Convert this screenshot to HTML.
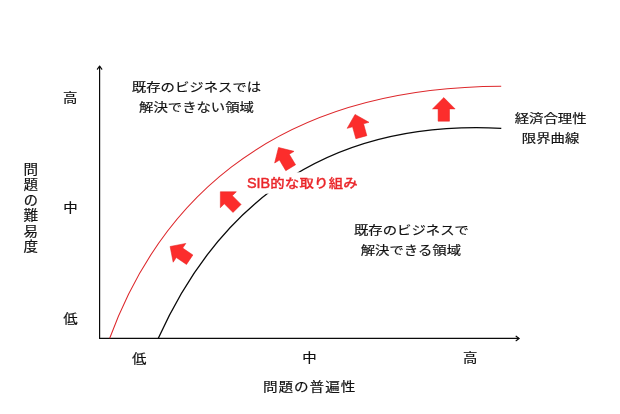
<!DOCTYPE html>
<html lang="ja">
<head>
<meta charset="utf-8">
<title>SIB</title>
<style>
html,body{margin:0;padding:0;background:#fff;}
body{width:620px;height:414px;overflow:hidden;}
svg{display:block;}
text{font-family:"Liberation Sans","Noto Sans CJK JP",sans-serif;font-weight:400;fill:#111;stroke:#111;stroke-width:0.2px;text-anchor:middle;}
.r{fill:#ea272b;stroke:#ea272b;font-weight:500;}
.s{font-weight:400;stroke-width:0.45px;}
.c{stroke-width:0.3px;}
</style>
</head>
<body>
<svg width="620" height="414" viewBox="0 0 620 414">
<rect width="620" height="414" fill="#fff"/>
<g fill="none" stroke="#0a0a0a" stroke-width="1.2" stroke-linecap="round" stroke-linejoin="round">
<path d="M99.6 66.4V338.45H518.9"/>
<path d="M97.4 69.2L99.6 66.2L101.8 69.2"/>
<path d="M516.1 336.25L519.1 338.45L516.1 340.65"/>
</g>
<path d="M109.7 338.3C154.2 216.9 258.8 87.3 501.2 86.3" fill="none" stroke="#dd272b" stroke-width="1.05"/>
<path d="M158.3 338.3C204 236.9 297 117.8 501.3 128.3" fill="none" stroke="#0a0a0a" stroke-width="1.3"/>
<g fill="#fc2d2c" stroke="#e62222" stroke-width="0.5">
<path d="M0 -11.8L11.3 -0.5L5.7 -0.5L5.7 11.8L-5.7 11.8L-5.7 -0.5L-11.3 -0.5Z" transform="translate(443.8 109.4) rotate(0)"/>
<path d="M0 -11.8L11.3 -0.5L5.7 -0.5L5.7 11.8L-5.7 11.8L-5.7 -0.5L-11.3 -0.5Z" transform="translate(358.2 125.8) rotate(-15.5)"/>
<path d="M0 -11.8L11.3 -0.5L5.7 -0.5L5.7 11.8L-5.7 11.8L-5.7 -0.5L-11.3 -0.5Z" transform="translate(284.6 157.6) rotate(-31)"/>
<path d="M0 -11.8L11.3 -0.5L5.7 -0.5L5.7 11.8L-5.7 11.8L-5.7 -0.5L-11.3 -0.5Z" transform="translate(228.7 200.1) rotate(-45)"/>
<path d="M0 -11.8L11.3 -0.5L5.7 -0.5L5.7 11.8L-5.7 11.8L-5.7 -0.5L-11.3 -0.5Z" transform="translate(179.9 253.1) rotate(-56)"/>
</g>
<text transform="translate(196.5 91.9) scale(1 0.86)" font-size="14.4">既存のビジネスでは</text>
<text transform="translate(196.5 111.9) scale(1 0.86)" font-size="14.4">解決できない領域</text>
<text transform="translate(411.4 234.7) scale(1 0.86)" font-size="14.4">既存のビジネスで</text>
<text transform="translate(410.9 254.7) scale(1 0.86)" font-size="14.4">解決できる領域</text>
<text transform="translate(550.6 122.9) scale(1 0.86)" font-size="14.4">経済合理性</text>
<text transform="translate(550.6 143.3) scale(1 0.86)" font-size="14.4">限界曲線</text>
<text transform="translate(70.3 102.15) scale(1 0.89)" font-size="14.4">高</text>
<text transform="translate(70.4 212.25) scale(1 0.89)" font-size="14.4">中</text>
<text transform="translate(70.5 322.65) scale(1 0.89)" font-size="14.4">低</text>
<text transform="translate(139.2 362.6) scale(1 0.89)" font-size="14.4">低</text>
<text transform="translate(309.4 362.35) scale(1 0.89)" font-size="14.4">中</text>
<text transform="translate(470.1 362.25) scale(1 0.89)" font-size="14.4">高</text>
<text transform="translate(309.6 390.5) scale(1 0.87)" font-size="14.6" letter-spacing="0.95">問題の普遍性</text>
<rect x="246.5" y="172.3" width="110" height="21.4" fill="#fff"/>
<text x="270.2" y="188" font-size="14.4" class="r s" style="text-anchor:end">SIB</text>
<text transform="translate(270.2 188.2) scale(1 0.86)" font-size="14.4" letter-spacing="0.25" class="r c" style="text-anchor:start">的な取り組み</text>
<text transform="translate(29.8 208.8) scale(1 0.9)" font-size="14.6" letter-spacing="2.6" style="writing-mode:vertical-rl">問題の難易度</text>
</svg>
</body>
</html>
